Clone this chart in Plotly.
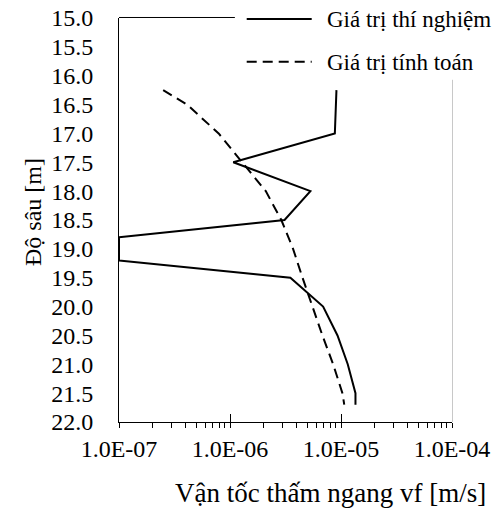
import plotly.graph_objects as go

# Data
depth_exp = [16.25, 17.0, 17.5, 18.0, 18.5, 18.8, 19.2, 19.5, 20.0, 20.5, 21.0, 21.5, 21.7]
vf_exp = [9.1e-6, 8.8e-6, 1.07e-6, 5.3e-6, 3.1e-6, 1.0e-7, 1.0e-7, 3.5e-6, 6.9e-6, 9.3e-6, 1.15e-5, 1.35e-5, 1.35e-5]

depth_calc = [16.25, 16.5, 17.0, 17.5, 18.0, 18.5, 19.0, 19.5, 20.0, 20.5, 21.0, 21.5, 21.7]
vf_calc = [2.5e-7, 4.1e-7, 7.9e-7, 1.3e-6, 2.1e-6, 2.9e-6, 3.7e-6, 4.5e-6, 5.5e-6, 6.8e-6, 8.5e-6, 1.03e-5, 1.07e-5]

x_tickvals = [1e-7, 1e-6, 1e-5, 1e-4]
x_ticktext = ["1.0E-07", "1.0E-06", "1.0E-05", "1.0E-04"]
x_minor = [m * 10.0 ** e for e in range(-7, -4) for m in range(2, 10)]

name_exp = "Giá trị thí nghiệm"
name_calc = "Giá trị tính toán"
x_title = "Vận tốc thấm ngang vf [m/s]"
y_title = "Độ sâu [m]"

FONT = "Times New Roman, Liberation Serif, DejaVu Serif, serif"

fig = go.Figure()
fig.add_trace(go.Scatter(x=vf_exp, y=depth_exp, mode="lines", name=name_exp,
                         line=dict(color="black", width=2), showlegend=False))
fig.add_trace(go.Scatter(x=vf_calc, y=depth_calc, mode="lines", name=name_calc,
                         line=dict(color="black", width=2, dash="10px,6px"), showlegend=False))
# helper empty trace so the overlay axis (inside half of major ticks) is drawn
fig.add_trace(go.Scatter(x=[], y=[], xaxis="x2", showlegend=False, hoverinfo="skip"))

fig.update_layout(
    width=497, height=510,
    margin=dict(l=119, r=45, t=18, b=88),
    paper_bgcolor="white", plot_bgcolor="white",
    font=dict(family=FONT, color="black", size=24),
    xaxis=dict(type="log", range=[-7, -4], tickmode="array", tickvals=x_tickvals,
               ticktext=x_ticktext, ticks="outside", ticklen=5, tickcolor="black",
               tickwidth=1, showline=True, linecolor="black", linewidth=1,
               showgrid=False, zeroline=False, tickfont=dict(family=FONT, size=24),
               ticklabelstandoff=0, automargin=False,
               minor=dict(tickmode="array", tickvals=x_minor, ticks="outside",
                          ticklen=5, tickcolor="black", tickwidth=1, showgrid=False)),
    xaxis2=dict(type="log", range=[-7, -4], overlaying="x", tickmode="array",
                tickvals=x_tickvals, ticks="inside", ticklen=8, tickcolor="black",
                showticklabels=False, showgrid=False, zeroline=False, showline=False,
                anchor="y", side="bottom", automargin=False),
    yaxis=dict(range=[22, 15], dtick=0.5, tick0=15, tickformat=".1f",
               ticks="outside", ticklen=14, tickcolor="rgba(0,0,0,0)",
               ticklabelstandoff=6,
               showline=True, linecolor="black", linewidth=1, showgrid=False,
               zeroline=False, tickfont=dict(family=FONT, size=24),
               automargin=False),
    showlegend=False,
)

# frame pieces: top border (partly hidden by legend) and grey right border
fig.add_shape(type="line", xref="paper", yref="paper", x0=0, x1=0.348,
              y0=1.00124, y1=1.00124, line=dict(color="black", width=1))
fig.add_shape(type="line", xref="paper", yref="paper", x0=1.0015, x1=1.0015,
              y0=0, y1=0.847, line=dict(color="#c8c8c8", width=1))

# manual legend
fig.add_shape(type="line", xref="paper", yref="paper", x0=0.3835, x1=0.5787,
              y0=0.9975, y1=0.9975, line=dict(color="black", width=2))
fig.add_shape(type="line", xref="paper", yref="paper", x0=0.3835, x1=0.5787,
              y0=0.8918, y1=0.8918, line=dict(color="black", width=2, dash="10px,6px"))
fig.add_annotation(text=name_exp, xref="paper", yref="paper", x=0.6186, y=0.9975,
                   xanchor="left", yanchor="middle", showarrow=False,
                   font=dict(family=FONT, size=23))
fig.add_annotation(text=name_calc, xref="paper", yref="paper", x=0.6186, y=0.8908,
                   xanchor="left", yanchor="middle", showarrow=False,
                   font=dict(family=FONT, size=23))

# axis titles
fig.add_annotation(text=y_title, xref="paper", yref="paper", x=-0.258, y=0.52,
                   xanchor="center", yanchor="middle", textangle=-90, showarrow=False,
                   font=dict(family=FONT, size=24))
fig.add_annotation(text=x_title, xref="paper", yref="paper", x=0.6366, y=-0.1757,
                   xanchor="center", yanchor="middle", showarrow=False,
                   font=dict(family=FONT, size=27))

fig.write_html("out.html")
